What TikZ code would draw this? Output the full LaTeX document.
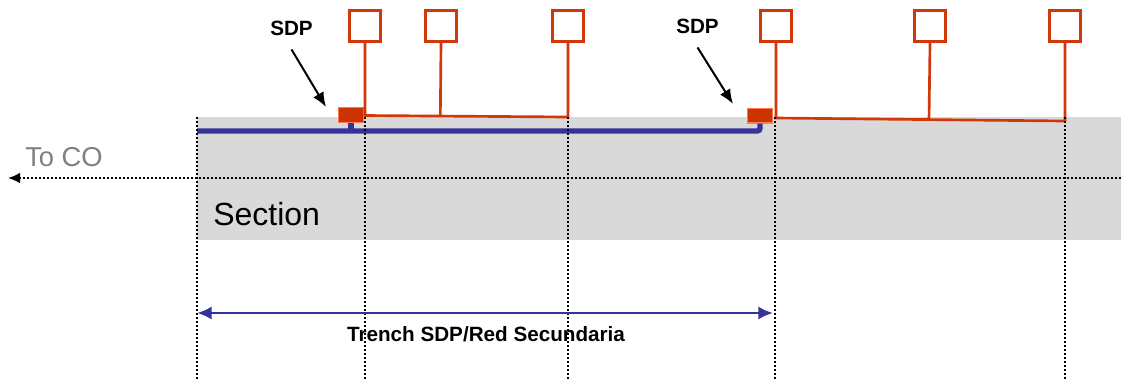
\documentclass[tikz,border=0pt]{standalone}
\usepackage{fontspec}
\setmainfont{Liberation Sans}
\usepackage{tikz}
\usetikzlibrary{arrows.meta}
\usetikzlibrary{calc}
\definecolor{drop}{RGB}{208,56,10}
\definecolor{sdpfill}{RGB}{204,51,0}
\definecolor{sdpedge}{RGB}{255,120,80}
\definecolor{feed}{RGB}{51,51,153}
\definecolor{band}{RGB}{217,217,217}
\definecolor{faint}{RGB}{128,128,128}
\tikzset{
  house/.style={draw=drop, line width=2pt, fill=white, minimum size=23.5pt, inner sep=0pt},
  sdpbox/.style={draw=sdpedge, line width=1pt, fill=sdpfill, minimum width=19pt, minimum height=11pt, inner sep=0pt},
  dropline/.style={drop, line width=2pt},
  feeder/.style={feed, line width=4pt, rounded corners=2pt},
  cut/.style={black, line width=1.3pt, dash pattern=on 1.4pt off 1.6pt},
  pointer/.style={black, line width=1.5pt, -{Latex[length=11pt, width=9pt]}},
  lbl/.style={font=\bfseries\fontsize{15.5}{18}\selectfont, inner sep=0pt}
}
\begin{document}
\begin{tikzpicture}[x=0.75pt, y=-0.75pt]
              \useasboundingbox (0,0) rectangle (1121,380);
              % section band
              \fill[band] (197,117) rectangle (1121,240);
              \node[anchor=base west, inner sep=0pt, font=\fontsize{24}{28}\selectfont] (sec) at (213,225) {Section};
              \node[anchor=base west, inner sep=0pt, text=faint, font=\fontsize{20.5}{24}\selectfont] (co) at (25,166) {To CO};
              % homes
              \node[house] (h1) at (365,26) {};
              \node[house] (h2) at (441,26) {};
              \node[house] (h3) at (568,26) {};
              \node[house] (h4) at (776,26) {};
              \node[house] (h5) at (930,26) {};
              \node[house] (h6) at (1065,26) {};
              % distribution points
              \node[sdpbox] (s1) at (351,115) {};
              \node[sdpbox] (s2) at (760,115.5) {};
              % feeder cable
              \coordinate (w) at (197,131);
              \draw[feeder] (w) -- (s2.south |- w) -- (s2.south);
              \draw[feed, line width=4pt] (s1.south) -- (s1.south |- w);
              % drops
              \coordinate (j1) at (365,115.5);
              \coordinate (j3) at (568,117);
              \coordinate (k1) at (776,118);
              \coordinate (k3) at (1065,121);
              \coordinate (j2) at ($(j1)!(h2)!(j3)$);
              \coordinate (k2) at ($(k1)!(h5)!(k3)$);
              \draw[dropline] (h1.south) -- (j1) -- (j3) -- (h3.south);
              \draw[dropline] (h2.south) -- (j2);
              \draw[dropline] (h4.south) -- (k1) -- (k3) -- (h6.south);
              \draw[dropline] (h5.south) -- (k2);
              % cut lines
              \foreach \x in {197,365,568,775,1065}
                \draw[cut] (\x,117) -- (\x,380);
              \coordinate (east) at (1121,178);
              \coordinate (west) at (8,178);
              \draw[cut, -{Latex[length=9pt, width=8pt]}] (east) -- (west);
              % labels
              \node[lbl, anchor=base west] (l1) at (270,35) {SDP};
              \node[lbl, anchor=base west] (l2) at (676,33) {SDP};
              \coordinate (t1) at (326,107);
              \coordinate (t2) at (733,104);
              \draw[pointer] (l1.south) ++(0,14) -- (t1);
              \draw[pointer] (l2.south) ++(0,14) -- (t2);
              % trench span
              \coordinate (a) at (197,313);
              \coordinate (b) at (773,313);
              \draw[feed, line width=2.2pt, {Latex[length=11pt, width=10pt]}-{Latex[length=11pt, width=10pt]}] (a) -- (b);
              \node[lbl, anchor=base] (tr) at (486,341) {Trench SDP/Red Secundaria};
            \end{tikzpicture}
\end{document}
